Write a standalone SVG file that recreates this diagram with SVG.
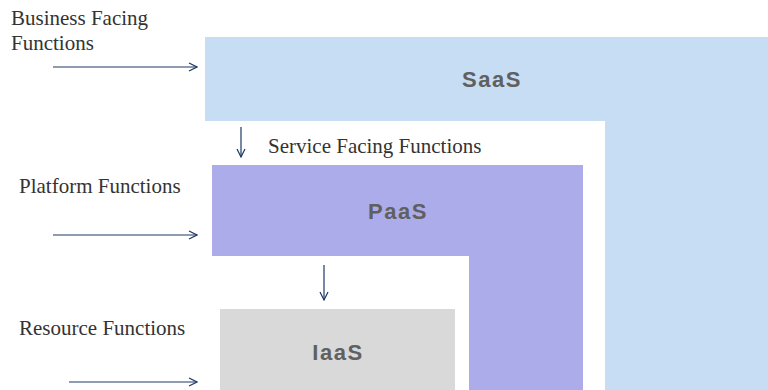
<svg xmlns="http://www.w3.org/2000/svg" width="768" height="390" viewBox="0 0 768 390">
<style>
.lbl{font-family:"Liberation Serif",serif;font-size:21px;fill:#333}
.nm{font-family:"Liberation Sans",Arial,sans-serif;font-size:22px;font-weight:bold;fill:#606060;text-anchor:middle;letter-spacing:1.5px}
.ar{stroke:#1f3864;stroke-width:1.2;fill:none;marker-end:url(#ah)}
</style>
<defs>
<marker id="ah" viewBox="0 0 10 10" refX="9" refY="5" markerWidth="10" markerHeight="10" markerUnits="userSpaceOnUse" orient="auto">
<path d="M1,1 L9,5 L1,9" fill="none" stroke="#1f3864" stroke-width="1.2"/>
</marker>
</defs>
<rect width="768" height="390" fill="#fff"/>
<g id="saas">
<path d="M205,37 H768 V390 H605 V121 H205 Z" fill="#c6ddf4"/>
<text class="nm" x="492" y="87">SaaS</text>
</g>
<g id="paas">
<path d="M212,165 H583 V390 H469 V256 H212 Z" fill="#adacea"/>
<text class="nm" x="398" y="219">PaaS</text>
</g>
<g id="iaas">
<rect x="220" y="309" width="235" height="81" fill="#d9d9d9"/>
<text class="nm" x="338" y="360">IaaS</text>
</g>
<g id="labels">
<text class="lbl" x="11" y="25">Business Facing</text>
<text class="lbl" x="11" y="50">Functions</text>
<text class="lbl" x="268" y="153">Service Facing Functions</text>
<text class="lbl" x="19" y="193">Platform Functions</text>
<text class="lbl" x="19" y="335">Resource Functions</text>
</g>
<g id="connectors">
<line class="ar" x1="53" y1="67" x2="197" y2="67"/>
<line class="ar" x1="53" y1="235" x2="197" y2="235"/>
<line class="ar" x1="69" y1="382" x2="197" y2="382"/>
<line class="ar" x1="241" y1="127" x2="241" y2="157"/>
<line class="ar" x1="324" y1="265" x2="324" y2="300"/>
</g>
</svg>
